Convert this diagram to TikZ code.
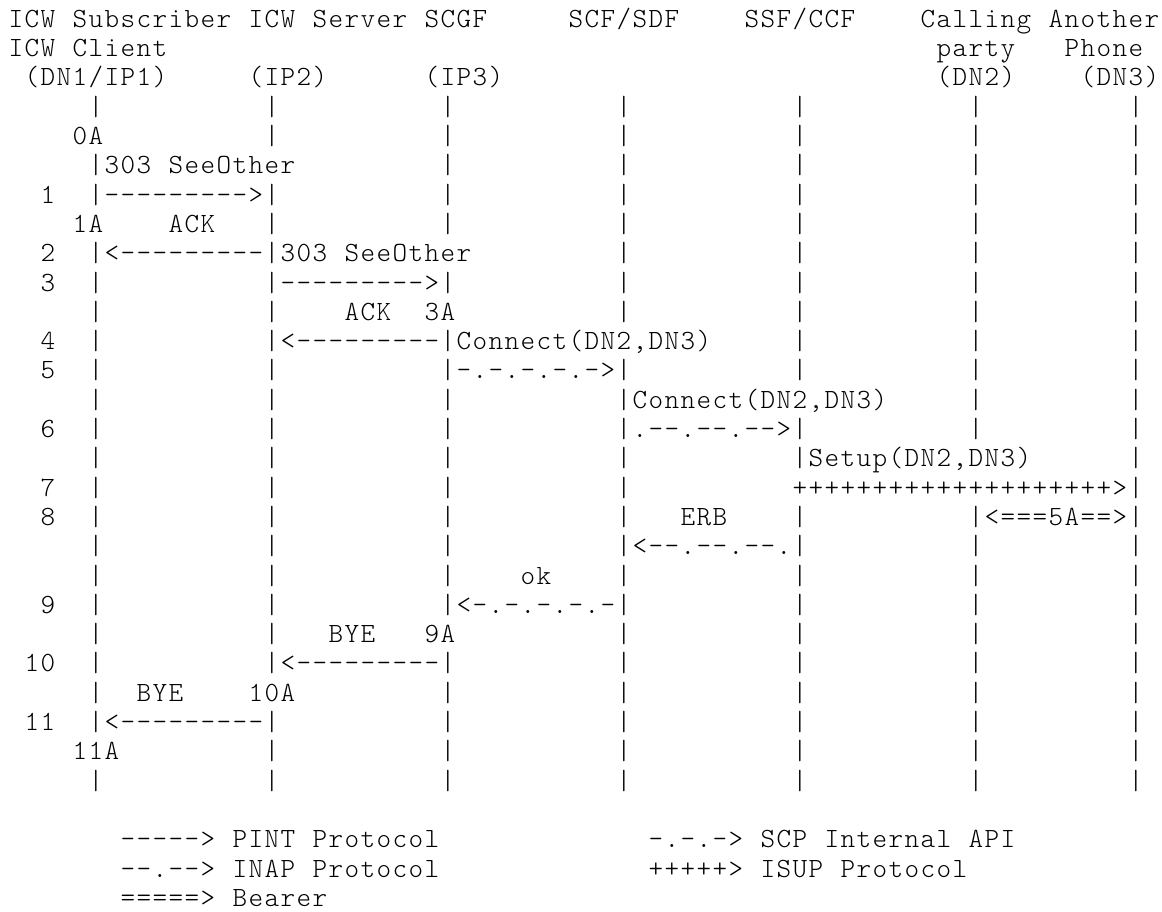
\documentclass[tikz,border=0pt]{standalone}
\ExplSyntaxOn
\cs_new_protected:Npn \cellstr #1 { \str_map_inline:nn {#1} { \makebox[16pt][c]{##1} } }
\ExplSyntaxOff
\tikzset{txt/.style={anchor=base west, inner sep=0pt, outer sep=0pt,
  font=\fontsize{27.8}{29.3}\fontfamily{lmtt}\fontseries{l}\selectfont}}
\newcommand\seg[3]{\node[txt] (l#1c#2) at ({8pt+16pt*#2},{-27.3pt-29.3pt*(#1-1)}) {\cellstr{#3}};}
\newcommand\bars[2]{\foreach \c in {#2}{\node[txt] (l#1c\c) at ({8pt+16pt*\c},{-27.3pt-29.3pt*(#1-1)}) {\cellstr{|}};}}
\begin{document}
\begin{tikzpicture}
\fill[white] (0,0) rectangle (1162pt,-911pt);
\useasboundingbox (0,0) rectangle (1162pt,-911pt);
% header
\seg{1}{0}{ICW Subscriber ICW Server SCGF}
\seg{1}{35}{SCF/SDF}
\seg{1}{46}{SSF/CCF}
\seg{1}{57}{Calling Another}
\seg{2}{0}{ICW Client}
\seg{2}{58}{party}
\seg{2}{66}{Phone}
\seg{3}{1}{(DN1/IP1)}
\seg{3}{15}{(IP2)}
\seg{3}{26}{(IP3)}
\seg{3}{58}{(DN2)}
\seg{3}{67}{(DN3)}
% body
\bars{4}{5,16,27,38,49,60,70}
\seg{5}{4}{0A}
\bars{5}{16,27,38,49,60,70}
\seg{6}{5}{|303 SeeOther}
\bars{6}{27,38,49,60,70}
\seg{7}{2}{1}
\seg{7}{5}{|--------->|}
\bars{7}{27,38,49,60,70}
\seg{8}{4}{1A}
\seg{8}{10}{ACK}
\bars{8}{16,27,38,49,60,70}
\seg{9}{2}{2}
\seg{9}{5}{|<---------|303 SeeOther}
\bars{9}{38,49,60,70}
\seg{10}{2}{3}
\bars{10}{5}
\seg{10}{16}{|--------->|}
\bars{10}{38,49,60,70}
\bars{11}{5,16}
\seg{11}{21}{ACK}
\seg{11}{26}{3A}
\bars{11}{38,49,60,70}
\seg{12}{2}{4}
\bars{12}{5}
\seg{12}{16}{|<---------|Connect(DN2,DN3)}
\bars{12}{49,60,70}
\seg{13}{2}{5}
\bars{13}{5,16}
\seg{13}{27}{|-.-.-.-.->|}
\bars{13}{49,60,70}
\bars{14}{5,16,27}
\seg{14}{38}{|Connect(DN2,DN3)}
\bars{14}{60,70}
\seg{15}{2}{6}
\bars{15}{5,16,27}
\seg{15}{38}{|.--.--.-->|}
\bars{15}{60,70}
\bars{16}{5,16,27,38}
\seg{16}{49}{|Setup(DN2,DN3)}
\bars{16}{70}
\seg{17}{2}{7}
\bars{17}{5,16,27,38}
\seg{17}{49}{++++++++++++++++++++>|}
\seg{18}{2}{8}
\bars{18}{5,16,27,38}
\seg{18}{42}{ERB}
\bars{18}{49,60}
\seg{18}{61}{<===5A==>|}
\bars{19}{5,16,27}
\seg{19}{38}{|<--.--.--.|}
\bars{19}{60,70}
\bars{20}{5,16,27}
\seg{20}{32}{ok}
\bars{20}{38,49,60,70}
\seg{21}{2}{9}
\bars{21}{5,16}
\seg{21}{27}{|<-.-.-.-.-|}
\bars{21}{49,60,70}
\bars{22}{5,16}
\seg{22}{20}{BYE}
\seg{22}{26}{9A}
\bars{22}{38,49,60,70}
\seg{23}{1}{10}
\bars{23}{5}
\seg{23}{16}{|<---------|}
\bars{23}{38,49,60,70}
\bars{24}{5}
\seg{24}{8}{BYE}
\seg{24}{15}{10A}
\bars{24}{27,38,49,60,70}
\seg{25}{1}{11}
\seg{25}{5}{|<---------|}
\bars{25}{27,38,49,60,70}
\seg{26}{4}{11A}
\bars{26}{16,27,38,49,60,70}
\bars{27}{5,16,27,38,49,60,70}
% legend
\seg{29}{7}{-----> PINT Protocol}
\seg{29}{40}{-.-.-> SCP Internal API}
\seg{30}{7}{--.--> INAP Protocol}
\seg{30}{40}{+++++> ISUP Protocol}
\seg{31}{7}{=====> Bearer}
\end{tikzpicture}
\end{document}
